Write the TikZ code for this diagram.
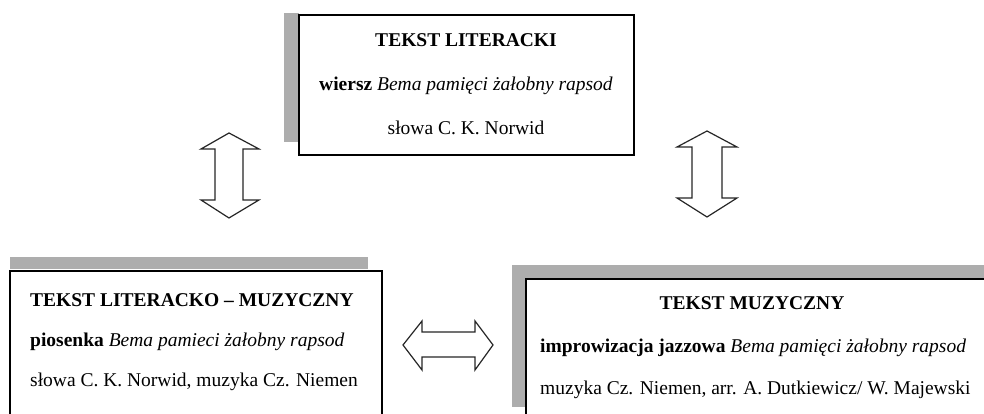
\documentclass[tikz,border=0pt]{standalone}
\usepackage{fontspec}
\setmainfont{Liberation Serif}
\begin{document}
\begin{tikzpicture}[x=1pt,y=1pt,
  box/.style={draw=black,line width=1.4pt,fill=white},
  shade/.style={fill=black!32,draw=none},
  txt/.style={font=\fontsize{19.5}{23}\selectfont,inner sep=0pt,text=black},
  arrowshape/.style={draw=black!85,line width=1.2pt,line join=miter,fill=white}]
\useasboundingbox (0,0) rectangle (984,414);
\clip (0,0) rectangle (984,414);
% shadows
\fill[shade] (284,{414-13}) rectangle (299,{414-142});
\fill[shade] (10,{414-257}) rectangle (368,{414-269});
\fill[shade] (512,{414-265}) rectangle (990,{414-279});
\fill[shade] (512,{414-265}) rectangle (526,{414-407});
% boxes
\draw[box] (299,{414-15}) rectangle (634,{414-155});
\draw[box] (10,{414-271}) rectangle (382,-20);
\draw[box] (526,{414-279}) rectangle (1000,-20);
% top box text
\node[txt,anchor=base] (t1) at (466,{414-47}) {\textbf{TEKST LITERACKI}};
\node[txt,anchor=base] (t2) at (466,{414-91}) {\textbf{wiersz} \textit{Bema pamięci żałobny rapsod}};
\node[txt,anchor=base] (t3) at (466,{414-135}) {słowa C. K. Norwid};
% bottom left text
\node[txt,anchor=base west] (l1) at (30,{414-307}) {\textbf{TEKST LITERACKO – MUZYCZNY}};
\node[txt,anchor=base west] (l2) at (30,{414-347}) {\textbf{piosenka} \textit{Bema pamieci żałobny rapsod}};
\node[txt,anchor=base west] (l3) at (30,{414-387}) {słowa C. K. Norwid, muzyka Cz. Niemen};
% bottom right text
\node[txt,anchor=base] (r1) at (752,{414-310}) {\textbf{TEKST MUZYCZNY}};
\node[txt,anchor=base west] (r2) at (540,{414-353}) {\textbf{improwizacja jazzowa} \textit{Bema pamięci żałobny rapsod}};
\node[txt,anchor=base west] (r3) at (540,{414-395}) {muzyka Cz. Niemen, arr. A. Dutkiewicz/ W. Majewski};
% left vertical double arrow
\draw[arrowshape] (229,{414-133}) -- (259,{414-149}) -- (243,{414-149}) -- (243,{414-200})
  -- (259,{414-200}) -- (229,{414-218}) -- (201,{414-200}) -- (215,{414-200})
  -- (215,{414-149}) -- (201,{414-149}) -- cycle;
% right vertical double arrow
\draw[arrowshape] (707,{414-131}) -- (737,{414-147}) -- (722,{414-147}) -- (722,{414-198})
  -- (737,{414-198}) -- (707,{414-217}) -- (677,{414-198}) -- (692,{414-198})
  -- (692,{414-147}) -- (677,{414-147}) -- cycle;
% horizontal double arrow
\draw[arrowshape] (403,{414-345}) -- (422,{414-321}) -- (422,{414-332}) -- (475,{414-332})
  -- (475,{414-321}) -- (493,{414-345}) -- (475,{414-370}) -- (475,{414-357})
  -- (422,{414-357}) -- (422,{414-370}) -- cycle;
\end{tikzpicture}
\end{document}
